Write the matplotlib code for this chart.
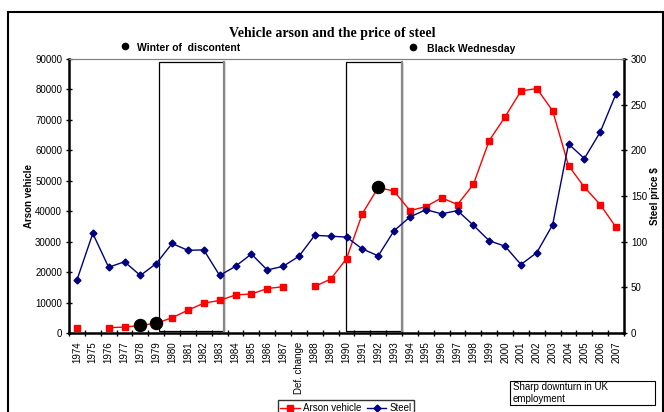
import numpy as np
import matplotlib
matplotlib.use("Agg")
import matplotlib.pyplot as plt
from matplotlib.patches import Rectangle
from matplotlib.lines import Line2D

# ---- data ----
years = [str(y) for y in range(1974, 1988)] + ["Def. change"] + [str(y) for y in range(1988, 2008)]

arson = [1800, np.nan, 1800, 1900, 2500, 3200, 5000, 7500, 9800, 10700,
         12500, 12800, 14600, 15200, np.nan, 15300, 17700, 24400, 39200, 47800,
         46600, 40200, 41500, 44400, 42200, 48800, 63200, 71000, 79500, 80300,
         73000, 55000, 47900, 42200, 34700]

steel = [58, 109, 72, 78, 63, 76, 98, 90.5, 91, 63,
         73, 86.5, 69, 73, 84, 107, 106, 105, 92, 84.5,
         112, 127, 135, 130.5, 134, 118, 101, 95, 75, 88,
         118.5, 207, 191, 220, 262]

event_years = ["1978", "1979", "1992"]
event_arson = [2500, 3200, 47800]

# shaded periods (category index spans)
periods = [(5.2, 9.25), (16.97, 20.5)]

SANS = "Liberation Sans"
RED = "#FF0000"
NAVY = "#000080"

plt.rcParams["font.family"] = SANS

W, H = 664, 412
fig = plt.figure(figsize=(W / 100, H / 100), dpi=100)
ax = fig.add_axes([69 / W, 1 - 333 / H, (624 - 69) / W, (333 - 59) / H])
ax2 = ax.twinx()

x = np.arange(len(years))
ax.plot(x, arson, color=RED, lw=1.0, marker="s", ms=5, mec=RED, mfc=RED, zorder=3)
ax2.plot(x, steel, color=NAVY, lw=1.0, marker="D", ms=3.5, mec=NAVY, mfc=NAVY, zorder=3)
ex = [years.index(y) for y in event_years]
ax.scatter(ex, event_arson, s=75, color="black", zorder=5)

for x0, x1 in periods:
    ax.add_patch(Rectangle((x0, 650), x1 - x0, 89000 - 650, fill=False,
                           edgecolor="black", lw=0.9, zorder=2))
    ax.plot([x1, x1], [650, 89000], color="#888888", lw=1.6, zorder=2)

ax.set_xlim(-0.5, len(years) - 0.5)
ax.set_ylim(0, 90000)
ax2.set_ylim(0, 300)
ax.set_yticks(np.arange(0, 90001, 10000))
ax2.set_yticks(np.arange(0, 301, 50))
ax.set_xticks(x)
ax.set_xticklabels(years, rotation=90, fontsize=7)
ax.set_xticks(np.arange(-0.5, len(years), 1), minor=True)
ax.tick_params(axis="x", which="major", length=0, pad=6)
ax.tick_params(axis="x", which="minor", length=5, width=1, direction="inout")
ax.tick_params(axis="y", labelsize=7, length=4, width=1, direction="inout", pad=3)
ax2.tick_params(axis="y", labelsize=7, length=4, width=1, direction="inout", pad=3)

for a in (ax, ax2):
    a.spines["top"].set_color("#808080")
    a.spines["top"].set_linewidth(0.8)
ax.spines["left"].set_linewidth(1.8)
ax.spines["bottom"].set_linewidth(1.8)
ax2.spines["right"].set_linewidth(1.8)
ax2.spines["left"].set_visible(False)
ax2.spines["bottom"].set_visible(False)
ax.spines["right"].set_visible(False)

ax.set_ylabel("Arson vehicle", fontsize=7, fontweight="bold", labelpad=1)
ax2.set_ylabel("Steel price $", fontsize=7, fontweight="bold", rotation=90, labelpad=2)

# outer chart frame
fig.patches.append(Rectangle((8 / W, -0.05), (663 - 8) / W, 1.05 - 12 / H,
                             transform=fig.transFigure, fill=False,
                             edgecolor="black", lw=1.5))

fig.text(0.5, 1 - 33 / H, "Vehicle arson and the price of steel",
         ha="center", va="center", fontsize=10, fontweight="bold",
         family="Liberation Serif")

# event annotations at top
for bx, by in [(125, 46), (413, 47)]:
    fig.add_artist(Line2D([bx / W], [1 - by / H], marker="o", ms=4.5, color="black",
                          lw=0, transform=fig.transFigure))
fig.text(137 / W, 1 - 48 / H, "Winter of  discontent", ha="left", va="center",
         fontsize=7.5, fontweight="bold")
fig.text(427 / W, 1 - 49 / H, "Black Wednesday", ha="left", va="center",
         fontsize=7.5, fontweight="bold")

# text box
fig.patches.append(Rectangle((510 / W, 1 - 405 / H), 145 / W, 24 / H,
                             transform=fig.transFigure, facecolor="white",
                             edgecolor="black", lw=0.8))
fig.text(513 / W, 1 - 393 / H, "Sharp downturn in UK\nemployment", ha="left",
         va="center", fontsize=7, linespacing=1.15)

handles = [
    Line2D([], [], color=RED, lw=1, marker="s", ms=5, mfc=RED, mec=RED, label="Arson vehicle"),
    Line2D([], [], color=NAVY, lw=1, marker="D", ms=3.5, mfc=NAVY, mec=NAVY, label="Steel"),
]
fig.legend(handles=handles, loc="upper center", bbox_to_anchor=(346 / W, 1 - 400 / H),
           ncol=2, fontsize=7, frameon=True, fancybox=False, edgecolor="black",
           handlelength=2.0, handletextpad=0.3, columnspacing=0.6, borderpad=0.3,
           borderaxespad=0)

fig.savefig("out.png", dpi=100)
